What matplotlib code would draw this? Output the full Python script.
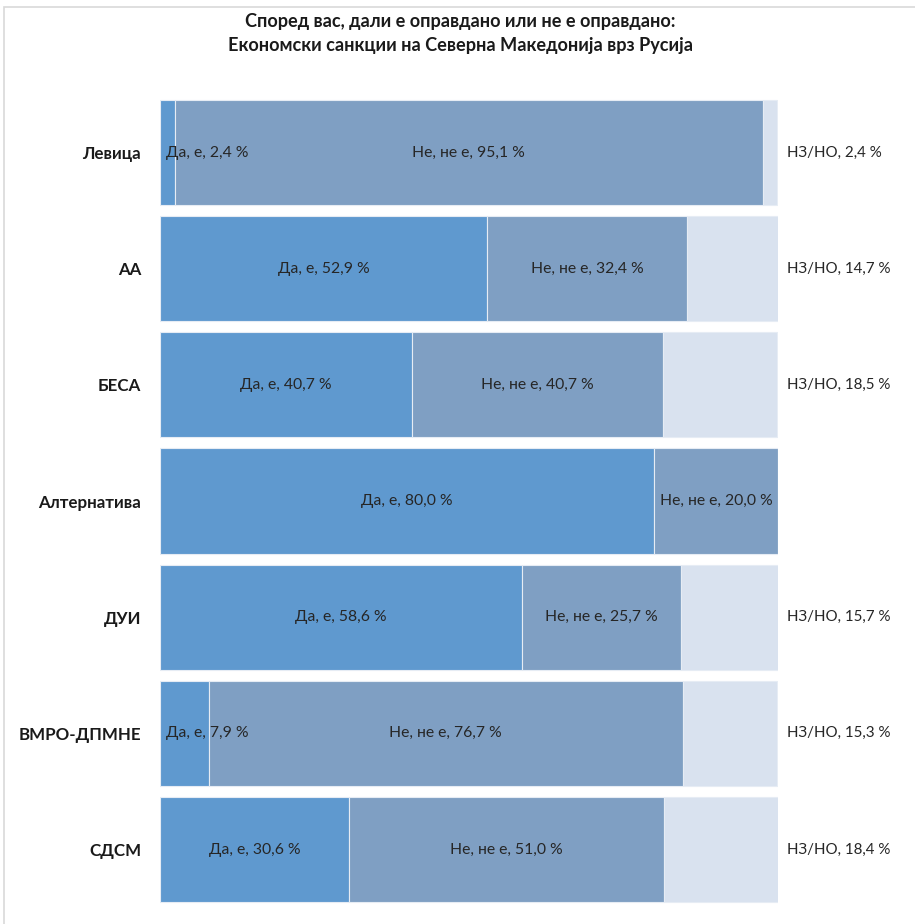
import numpy as np
import matplotlib
matplotlib.use('Agg')
import matplotlib.pyplot as plt
from matplotlib.patches import Rectangle

plt.rcParams['font.family'] = ['Lato', 'DejaVu Sans']

parties = ['Левица', 'АА', 'БЕСА', 'Алтернатива', 'ДУИ', 'ВМРО-ДПМНЕ', 'СДСМ']
da = [2.4, 52.9, 40.7, 80.0, 58.6, 7.9, 30.6]
ne = [95.1, 32.4, 40.7, 20.0, 25.7, 76.7, 51.0]
nz = [2.4, 14.7, 18.5, 0.0, 15.7, 15.3, 18.4]

title = 'Според вас, дали е оправдано или не е оправдано:\nЕкономски санкции на Северна Македонија врз Русија'

c_da = '#5F99CF'
c_ne = '#7F9FC3'
c_nz = '#D9E2EF'
txt = '#262626'

fig = plt.figure(figsize=(9.15, 9.24), dpi=100)
ax = fig.add_axes([0.1749, 0.0177, 0.6754, 0.8801])

y = np.arange(len(parties))
h = 0.905
da = np.array(da); ne = np.array(ne); nz = np.array(nz)

ax.barh(y, da, height=h, color=c_da, edgecolor='#E6ECF4', linewidth=0.8)
ax.barh(y, ne, left=da, height=h, color=c_ne, edgecolor='#E6ECF4', linewidth=0.8)
ax.barh(y, nz, left=da+ne, height=h, color=c_nz, edgecolor='#E6ECF4', linewidth=0.8)

fs = 11.3
def pct(v):
    return ('%.1f' % v).replace('.', ',') + ' %'

for i in range(len(parties)):
    lab = 'Да, е, ' + pct(da[i])
    if da[i] < 10:
        ax.text(1.0, i, lab, ha='left', va='center', fontsize=fs, color=txt)
    else:
        ax.text(da[i]/2, i, lab, ha='center', va='center', fontsize=fs, color=txt)
    ax.text(da[i] + ne[i]/2, i, 'Не, не е, ' + pct(ne[i]), ha='center', va='center',
            fontsize=fs, color=txt)
    if nz[i] > 0:
        ax.text(101.5, i, 'НЗ/НО, ' + pct(nz[i]), ha='left', va='center',
                fontsize=fs - 0.4, color=txt)

ax.set_xlim(0, 100)
ax.set_ylim(len(parties) - 0.5, -0.5)
ax.set_yticks(y)
ax.set_yticklabels(parties, fontsize=12.2, fontweight='bold', color='#1a1a1a')
ax.tick_params(axis='y', length=0, pad=13.7)
ax.set_xticks([])
for s in ax.spines.values():
    s.set_visible(False)

fig.text(0.503, 0.964, title, ha='center', va='center', fontsize=13.1,
         fontweight='bold', color='#1a1a1a', linespacing=1.5)

fig.patches.append(Rectangle((0.0045, -0.01), 1.2, 1.002,
                             transform=fig.transFigure, fill=False,
                             edgecolor='#D9D9D9', linewidth=1.2))

fig.savefig('out.png', dpi=100)
